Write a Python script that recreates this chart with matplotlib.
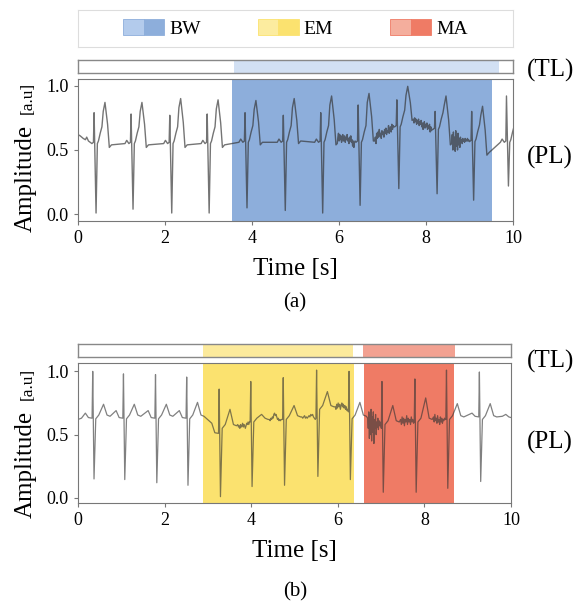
import numpy as np
import matplotlib
matplotlib.use('Agg')
import matplotlib.pyplot as plt
from matplotlib.patches import Patch
from matplotlib.legend_handler import HandlerTuple

plt.rcParams['font.family'] = ['Liberation Serif', 'DejaVu Serif']

# ---------------- (a) 基线漂移 BW ----------------
# 每个心拍的时间 / 尖峰 / 谷底 / 峰值 / 前后基线
a_beat_t = [0.37, 1.22, 2.11, 2.97, 3.84, 4.72, 5.58, 6.44, 7.33, 8.21, 9.05, 9.85]
a_spike = [0.79, 0.78, 0.77, 0.78, 0.79, 0.77, 0.79, 0.85, 0.89, 0.80, 0.80, 0.92]
a_dip = [0.01, 0.04, 0.01, 0.01, 0.05, 0.03, 0.01, 0.07, 0.20, 0.16, 0.11, 0.22]
a_peak = [0.87, 0.87, 0.90, 0.89, 0.885, 0.90, 0.92, 0.94, 0.995, 0.92, 0.84, 0.75]
a_pre = [0.55, 0.55, 0.55, 0.55, 0.56, 0.56, 0.56, 0.56, 0.68, 0.66, 0.565, 0.56]
a_post = [0.53, 0.53, 0.53, 0.53, 0.55, 0.56, 0.55, 0.58, 0.74, 0.55, 0.47, 0.57]
a_start_t = [0.0, 0.05, 0.12, 0.17, 0.20, 0.24, 0.28]
a_start_v = [0.62, 0.61, 0.59, 0.58, 0.60, 0.57, 0.56]
# 噪声段（手工读取）
a_noise7 = [0.55, 0.60, 0.63, 0.57, 0.62, 0.58, 0.61, 0.56, 0.60, 0.62, 0.57, 0.59, 0.61, 0.56, 0.60,
            0.58, 0.62, 0.57, 0.59, 0.55, 0.60, 0.57, 0.61, 0.56, 0.58, 0.53, 0.57, 0.52, 0.56, 0.57]
a_noise8 = [0.57, 0.60, 0.55, 0.63, 0.59, 0.64, 0.60, 0.66, 0.61, 0.63, 0.59, 0.65, 0.62, 0.64, 0.60,
            0.66, 0.63, 0.67, 0.62, 0.65, 0.64, 0.69, 0.63, 0.66, 0.68, 0.64, 0.70, 0.66, 0.69, 0.68]
a_noise9 = [0.74, 0.71, 0.75, 0.72, 0.74, 0.70, 0.73, 0.71, 0.74, 0.69, 0.72, 0.70, 0.73, 0.68, 0.71,
            0.66, 0.70, 0.72, 0.67, 0.70, 0.68, 0.71, 0.66, 0.69, 0.67, 0.70, 0.64, 0.68, 0.65, 0.66]
a_noise10 = [0.55, 0.62, 0.50, 0.64, 0.52, 0.60, 0.49, 0.65, 0.53, 0.61, 0.50, 0.63, 0.54, 0.59, 0.52,
             0.60, 0.56, 0.58, 0.55, 0.59, 0.57, 0.58, 0.56, 0.59, 0.57, 0.58, 0.57, 0.59, 0.57, 0.58]
a_bw_pl = (3.54, 9.52)
a_bw_tl = (3.58, 9.68)

# ---------------- (b) 电极运动 EM + 肌电 MA ----------------
b_beat_t = [0.34, 1.05, 1.79, 2.51, 3.26, 3.99, 4.74, 5.51, 6.26, 7.02, 7.78, 8.51, 9.27]
b_spike = [1.00, 0.98, 0.975, 0.955, 0.86, 0.92, 0.95, 1.01, 1.00, 0.92, 0.94, 1.01, 0.995]
b_dip = [0.15, 0.145, 0.12, 0.10, 0.01, 0.09, 0.10, 0.17, 0.145, 0.045, 0.045, 0.076, 0.13]
b_tpeak = [0.74, 0.74, 0.74, 0.755, 0.70, 0.66, 0.73, 0.84, 0.755, 0.73, 0.79, 0.745, 0.745]
b_p = [0.67, 0.69, 0.69, 0.69, 0.59, 0.66, 0.66, 0.66, 0.72, 0.55, 0.62, 0.66, 0.67]
b_pre = [0.63, 0.63, 0.63, 0.63, 0.51, 0.60, 0.62, 0.63, 0.68, 0.55, 0.60, 0.62, 0.64]
b_post = [0.645, 0.645, 0.645, 0.645, 0.57, 0.62, 0.64, 0.72, 0.645, 0.60, 0.62, 0.64, 0.64]
b_start_t = [0.0, 0.08]
b_start_v = [0.62, 0.63]
b_end_t = [9.80, 9.88, 9.95, 10.0]
b_end_v = [0.645, 0.66, 0.64, 0.635]
b_noise5 = [0.58, 0.56, 0.57, 0.55, 0.58, 0.56, 0.57, 0.59, 0.56, 0.58, 0.57, 0.55, 0.57, 0.59,
            0.58, 0.60, 0.58, 0.60]
b_noise6 = [0.62, 0.61, 0.63, 0.62, 0.64, 0.63, 0.66, 0.67, 0.65, 0.66, 0.64, 0.62, 0.63, 0.61,
            0.62, 0.61, 0.62, 0.62]
b_noise7 = [0.64, 0.63, 0.64, 0.65, 0.63, 0.64, 0.63, 0.64, 0.65, 0.64, 0.66, 0.65, 0.66, 0.64,
            0.63, 0.62]
b_noise8 = [0.72, 0.70, 0.74, 0.71, 0.75, 0.72, 0.74, 0.70, 0.73, 0.75, 0.72, 0.74, 0.71, 0.73,
            0.70, 0.72, 0.69, 0.70]
b_noise9 = [0.63, 0.55, 0.68, 0.47, 0.66, 0.50, 0.70, 0.45, 0.64, 0.52, 0.68, 0.43, 0.62, 0.55,
            0.66, 0.50, 0.60, 0.56, 0.63, 0.54, 0.61, 0.57, 0.60, 0.58]
b_noise10 = [0.62, 0.58, 0.64, 0.59, 0.63, 0.57, 0.62, 0.60, 0.65, 0.58, 0.63, 0.60, 0.62, 0.58,
             0.64, 0.60, 0.62, 0.59]
b_noise11 = [0.64, 0.60, 0.66, 0.61, 0.63, 0.59, 0.65, 0.60, 0.62, 0.58, 0.64, 0.60, 0.63, 0.59,
             0.62, 0.61, 0.63, 0.62]
b_em_pl = (2.89, 6.37)
b_em_tl = (2.89, 6.35)
b_ma_pl = (6.60, 8.69)
b_ma_tl = (6.58, 8.71)

labels = ['BW', 'EM', 'MA']
light = ['#b3cbec', '#fcec9f', '#f4ae9d']
dark = ['#8daedb', '#fbe26f', '#ef7b65']
tl_col = ['#d2e0f3', '#fcea9c', '#f2a191']


def build_a():
    noise = {6: a_noise7, 7: a_noise8, 8: a_noise9, 9: a_noise10}
    dt = [-0.05, -0.015, 0, 0.045, 0.075, 0.10, 0.14, 0.18, 0.21, 0.25, 0.31, 0.35]
    t, v = list(a_start_t), list(a_start_v)
    n = len(a_beat_t)
    for i in range(n):
        ts, pre, post, pk = a_beat_t[i], a_pre[i], a_post[i], a_peak[i]
        t += [ts + d for d in dt]
        v += [pre, pre + 0.01, a_spike[i], a_dip[i], pre, pre + 0.02, pre + 0.08,
              pre + 0.13, pk - 0.07, pk, (pk + post) / 2, post - 0.01]
        if i == n - 1:
            break
        nxt = a_beat_t[i + 1]
        if i in noise:
            seg = noise[i]
            t += list(np.linspace(ts + 0.38, nxt - 0.07, len(seg)))
            v += seg
        else:
            t += [ts + 0.40, nxt - 0.14, nxt - 0.10]
            v += [post + 0.01, a_pre[i + 1], a_pre[i + 1] + 0.025]
    return t, v


def build_b():
    noise = {4: b_noise5, 5: b_noise6, 6: b_noise7, 7: b_noise8, 8: b_noise9, 9: b_noise10, 10: b_noise11}
    dt = [-0.015, 0, 0.03, 0.07, 0.14, 0.25, 0.33, 0.40]
    t, v = list(b_start_t), list(b_start_v)
    t += [b_beat_t[0] - 0.17, b_beat_t[0] - 0.10]
    v += [b_p[0], b_pre[0] + 0.005]
    n = len(b_beat_t)
    for i in range(n):
        ts, pre, post = b_beat_t[i], b_pre[i], b_post[i]
        t += [ts + d for d in dt]
        v += [pre, b_spike[i], b_dip[i], post - 0.02, post + 0.01, b_tpeak[i], post + 0.01, post]
        if i == n - 1:
            break
        nxt = b_beat_t[i + 1]
        if i in noise:
            seg = noise[i]
            t += list(np.linspace(ts + 0.43, nxt - 0.03, len(seg)))
            v += seg
        else:
            t += [nxt - 0.17, nxt - 0.10]
            v += [b_p[i + 1], b_pre[i + 1] + 0.005]
    t += b_end_t
    v += b_end_v
    return t, v


W, H = 576, 607
fig = plt.figure(figsize=(W / 100, H / 100), dpi=100)


def px_axes(x0, y0, x1, y1):
    return fig.add_axes([x0 / W, 1 - y1 / H, (x1 - x0) / W, (y1 - y0) / H])


def style_tl(ax):
    ax.set_xlim(0, 10)
    ax.set_ylim(0, 1)
    ax.set_xticks([])
    ax.set_yticks([])
    for s in ax.spines.values():
        s.set_color('#888888')
        s.set_linewidth(1.0)


def style_pl(ax, ylim):
    ax.set_xlim(0, 10)
    ax.set_ylim(*ylim)
    ax.set_xticks([0, 2, 4, 6, 8, 10])
    ax.set_yticks([0, 0.5, 1.0])
    ax.set_yticklabels(['0.0', '0.5', '1.0'])
    for s in ax.spines.values():
        s.set_color('#777777')
        s.set_linewidth(0.8)
    ax.tick_params(colors='#777777', labelcolor='black', labelsize=13, length=3, width=0.8)
    ax.set_xlabel('Time [s]', fontsize=18, labelpad=8)


# 图例
ax_leg = px_axes(78, 10, 513, 47)
ax_leg.set_xticks([])
ax_leg.set_yticks([])
for s in ax_leg.spines.values():
    s.set_color('#dddddd')
    s.set_linewidth(0.8)
handles = [(Patch(fc=light[k], ec=dark[k], lw=0.6), Patch(fc=dark[k], ec=dark[k], lw=0.6)) for k in range(3)]
ax_leg.legend(handles, labels, loc='center', ncol=3, frameon=False, fontsize=14,
              handler_map={tuple: HandlerTuple(ndivide=None, pad=0)},
              handlelength=2.1, handleheight=0.85, handletextpad=0.25, columnspacing=2.95)

# ---- 面板 (a) ----
ta, va = build_a()
ax_tl_a = px_axes(78, 60, 513, 73)
ax_tl_a.axvspan(*a_bw_tl, color=tl_col[0], lw=0)
style_tl(ax_tl_a)

ax_a = px_axes(78, 79, 513, 221)
ax_a.axvspan(*a_bw_pl, color=dark[0], lw=0)
ax_a.plot(ta, va, color='#333333', alpha=0.68, lw=1.0)
style_pl(ax_a, (-0.052, 1.052))

# ---- 面板 (b) ----
tb, vb = build_b()
ax_tl_b = px_axes(78, 344, 511, 357)
ax_tl_b.axvspan(*b_em_tl, color=tl_col[1], lw=0)
ax_tl_b.axvspan(*b_ma_tl, color=tl_col[2], lw=0)
style_tl(ax_tl_b)

ax_b = px_axes(78, 363, 511, 503)
ax_b.axvspan(*b_em_pl, color=dark[1], lw=0)
ax_b.axvspan(*b_ma_pl, color=dark[2], lw=0)
ax_b.plot(tb, vb, color='#333333', alpha=0.62, lw=0.9)
style_pl(ax_b, (-0.04, 1.066))

# 纵轴标签、右侧标注、子图编号
for (yb, ytl, ypl, ysub, name) in [(232, 70, 157, 303, '(a)'), (518, 361, 442, 592, '(b)')]:
    fig.text(32 / W, 1 - yb / H, 'Amplitude', rotation=90, rotation_mode='anchor',
             ha='left', va='baseline', fontsize=18)
    fig.text(32 / W, 1 - (yb - 118) / H, '[a.u]', rotation=90, rotation_mode='anchor',
             ha='left', va='baseline', fontsize=12.5)
    fig.text(527 / W, 1 - ytl / H, '(TL)', ha='left', va='center', fontsize=18)
    fig.text(527 / W, 1 - ypl / H, '(PL)', ha='left', va='center', fontsize=18)
    fig.text(295 / W, 1 - ysub / H, name, ha='center', va='center', fontsize=15)

fig.savefig('out.png', dpi=100)
